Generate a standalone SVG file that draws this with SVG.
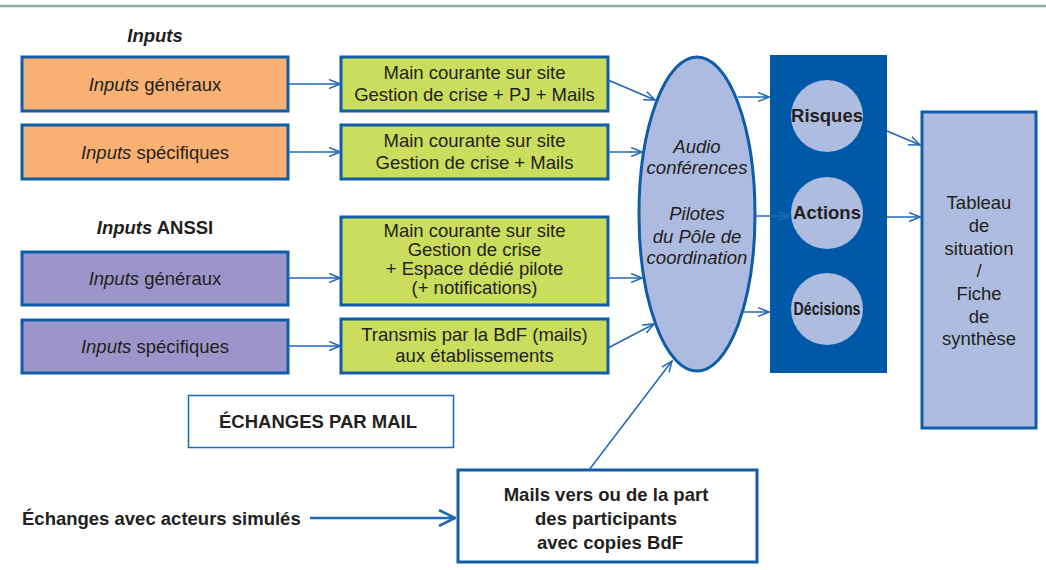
<svg xmlns="http://www.w3.org/2000/svg" width="1046" height="570" viewBox="0 0 1046 570">
<defs>
<style>
text{font-family:"Liberation Sans",Arial,sans-serif;font-size:18.5px;fill:#231f20;text-anchor:middle}
.b{font-weight:bold}
.i{font-style:italic}
.box{stroke:#0f5ca8;stroke-width:3}
.orange{fill:#f8b172}
.purple{fill:#9b95c9}
.green{fill:#cbdd5c}
.con{fill:none;stroke:#1f68b3;stroke-width:1.5}
.thick{stroke-width:2.6}
</style>
<marker id="ah" viewBox="0 0 12 10" refX="11" refY="5" markerWidth="12" markerHeight="10" markerUnits="userSpaceOnUse" orient="auto">
<path d="M0,0.5 L11,5 L0,9.5" fill="none" stroke="#1f68b3" stroke-width="1.5"/>
</marker>
<marker id="ahb" viewBox="0 0 18 18" refX="17" refY="9" markerWidth="18" markerHeight="18" markerUnits="userSpaceOnUse" orient="auto">
<path d="M1,1 L17,9 L1,17" fill="none" stroke="#1f68b3" stroke-width="2.6"/>
</marker>
</defs>
<rect width="1046" height="570" fill="#ffffff"/>
<line x1="0" y1="6" x2="1046" y2="6" stroke="#8ba99c" stroke-width="2.5"/>

<g id="hdr-inputs"><text x="155" y="42" class="b i">Inputs</text></g>
<g id="hdr-anssi"><text x="155" y="234" class="b"><tspan class="i">Inputs</tspan> ANSSI</text></g>

<g id="in-gen"><rect x="22" y="57" width="266" height="54" class="box orange"/><text x="155" y="91"><tspan class="i">Inputs</tspan> généraux</text></g>
<g id="in-spec"><rect x="22" y="125" width="266" height="54" class="box orange"/><text x="155" y="159"><tspan class="i">Inputs</tspan> spécifiques</text></g>
<g id="anssi-gen"><rect x="22" y="252" width="266" height="53" class="box purple"/><text x="155" y="285"><tspan class="i">Inputs</tspan> généraux</text></g>
<g id="anssi-spec"><rect x="22" y="320" width="266" height="53" class="box purple"/><text x="155" y="353"><tspan class="i">Inputs</tspan> spécifiques</text></g>

<g id="mc1"><rect x="341" y="57" width="267" height="54" class="box green"/><text x="474.5" y="78.5">Main courante sur site</text><text x="474.5" y="100.5">Gestion de crise + PJ + Mails</text></g>
<g id="mc2"><rect x="341" y="125" width="267" height="54" class="box green"/><text x="474.5" y="146.5">Main courante sur site</text><text x="474.5" y="168.5">Gestion de crise + Mails</text></g>
<g id="mc3"><rect x="341" y="217" width="267" height="88" class="box green"/><text x="474.5" y="237">Main courante sur site</text><text x="474.5" y="256">Gestion de crise</text><text x="474.5" y="275">+ Espace dédié pilote</text><text x="474.5" y="294">(+ notifications)</text></g>
<g id="bdf"><rect x="341" y="319" width="267" height="54" class="box green"/><text x="474.5" y="341">Transmis par la BdF (mails)</text><text x="474.5" y="362">aux établissements</text></g>

<g id="audio"><ellipse cx="697" cy="214" rx="58" ry="157" fill="#adbbe0" stroke="#0f5ca8" stroke-width="3"/>
<text class="i" x="697" y="153" font-size="17.5">Audio</text><text class="i" x="697" y="174" font-size="17.5">conférences</text>
<text class="i" x="697" y="220" font-size="17.5">Pilotes</text><text class="i" x="697" y="243" font-size="17.5">du Pôle de</text><text class="i" x="697" y="264" font-size="17.5">coordination</text></g>

<g id="rad"><rect x="770" y="55" width="117" height="318" fill="#0058a8"/>
<circle cx="827" cy="116" r="36" fill="#aebce0"/><text class="b" x="827" y="122" font-size="17.5">Risques</text>
<circle cx="827" cy="213" r="36" fill="#aebce0"/><text class="b" x="827" y="219" font-size="17.5">Actions</text>
<circle cx="827" cy="309" r="36" fill="#aebce0"/><text class="b" x="827" y="315" font-size="17.5" textLength="67" lengthAdjust="spacingAndGlyphs">Décisions</text></g>

<g id="tableau"><rect x="922" y="112" width="114" height="316" fill="#aebce0" stroke="#0f5ca8" stroke-width="3"/>
<text x="979" y="209">Tableau</text><text x="979" y="231.5">de</text><text x="979" y="254.5">situation</text><text x="979" y="276.5">/</text><text x="979" y="299.5">Fiche</text><text x="979" y="322.5">de</text><text x="979" y="344.5">synthèse</text></g>

<g id="echanges"><rect x="188.5" y="395.5" width="265" height="52" fill="#fff" stroke="#1f68b3" stroke-width="1.5"/><text class="b" x="318" y="427.5" font-size="18">ÉCHANGES PAR MAIL</text></g>

<g id="mails"><rect x="458" y="470" width="299" height="92" fill="#fff" stroke="#0f5ca8" stroke-width="3"/>
<text class="b" x="606" y="500.5" font-size="18">Mails vers ou de la part</text><text class="b" x="606" y="525" font-size="18">des participants</text><text class="b" x="610" y="549" font-size="18">avec copies BdF</text></g>

<g id="acteurs"><text class="b" x="22" y="524.5" font-size="18" style="text-anchor:start">Échanges avec acteurs simulés</text></g>

<g id="connectors">
<line x1="288" y1="84" x2="340" y2="84" class="con" marker-end="url(#ah)"/>
<line x1="288" y1="152" x2="340" y2="152" class="con" marker-end="url(#ah)"/>
<line x1="288" y1="278" x2="340" y2="278" class="con" marker-end="url(#ah)"/>
<line x1="288" y1="346" x2="340" y2="346" class="con" marker-end="url(#ah)"/>
<line x1="608" y1="80" x2="655" y2="100" class="con" marker-end="url(#ah)"/>
<line x1="608" y1="152" x2="642" y2="152" class="con" marker-end="url(#ah)"/>
<line x1="608" y1="278" x2="642" y2="278" class="con" marker-end="url(#ah)"/>
<line x1="608" y1="348" x2="654" y2="324" class="con" marker-end="url(#ah)"/>
<line x1="589" y1="470" x2="672" y2="361" class="con" marker-end="url(#ah)"/>
<line x1="738" y1="97" x2="769" y2="97" class="con" marker-end="url(#ah)"/>
<line x1="755" y1="216" x2="789" y2="216" class="con" marker-end="url(#ah)"/>
<line x1="743" y1="312" x2="769" y2="312" class="con" marker-end="url(#ah)"/>
<line x1="887" y1="131" x2="920" y2="145" class="con" marker-end="url(#ah)"/>
<line x1="887" y1="217" x2="920" y2="217" class="con" marker-end="url(#ah)"/>
<line x1="310" y1="518" x2="455" y2="518" class="con thick" marker-end="url(#ahb)"/>
</g>
</svg>
